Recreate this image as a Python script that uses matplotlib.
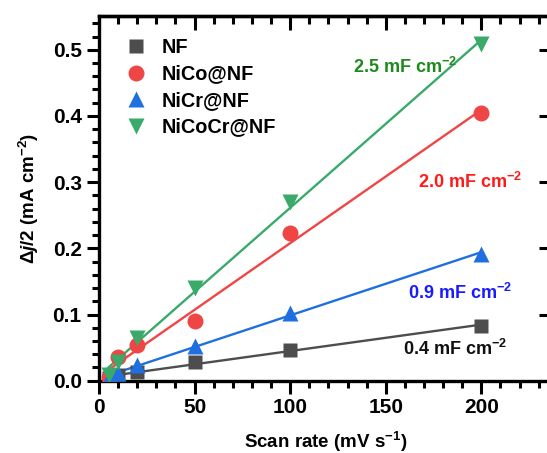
#Cdl plot: half current density difference vs scan rate
import matplotlib
matplotlib.use("Agg")
import matplotlib.pyplot as plt
from matplotlib.ticker import MultipleLocator
import numpy as np

plt.rcParams['font.family'] = ['Liberation Sans', 'DejaVu Sans']
plt.rcParams['font.weight'] = 'bold'
plt.rcParams['mathtext.fontset'] = 'custom'
plt.rcParams['mathtext.rm'] = 'Liberation Sans:bold'
plt.rcParams['mathtext.it'] = 'Liberation Sans:bold:italic'
plt.rcParams['mathtext.bf'] = 'Liberation Sans:bold'

scan_rate = [5, 10, 20, 50, 100, 200]
nf = [0.004, 0.008, 0.013, 0.028, 0.047, 0.083]
nico = [0.006, 0.036, 0.054, 0.090, 0.223, 0.405]
nicr = [0.004, 0.012, 0.024, 0.053, 0.102, 0.192]
nicocr = [0.009, 0.029, 0.065, 0.140, 0.270, 0.509]

names = ["NF", "NiCo@NF", "NiCr@NF", "NiCoCr@NF"]
cdl_text = ["0.4 mF cm$^{-2}$", "2.0 mF cm$^{-2}$", "0.9 mF cm$^{-2}$", "2.5 mF cm$^{-2}$"]

series = [nf, nico, nicr, nicocr]
colors = ["#4d4d4d", "#f04545", "#1f6fe0", "#3aaa6a"]
text_colors = ["#111111", "#ff1a1a", "#1a1aff", "#1e8a1e"]
markers = ["s", "o", "^", "v"]
msizes = [10.5, 11.5, 12, 12]
text_pos = [(186, 0.048), (194, 0.30), (189, 0.133), (160, 0.474)]

fig = plt.figure(figsize=(5.47, 4.53), dpi=100)
ax = fig.add_axes([0.181, 0.1596, 0.830, 0.805])

x = np.asarray(scan_rate, dtype=float)
handles = []
for ys, c in zip(series, colors):
    p = np.polyfit(x, ys, 1)
    ax.plot(x, np.polyval(p, x), color=c, lw=1.7, zorder=2)
for ys, c, m, ms, nm in zip(series, colors, markers, msizes, names):
    h, = ax.plot(x, ys, ls='none', marker=m, ms=ms, color=c, mec='none', zorder=3, label=nm)
    handles.append(h)

for t, pos, tc in zip(cdl_text, text_pos, text_colors):
    ax.text(pos[0], pos[1], t, color=tc, fontsize=13, fontweight='bold', ha='center', va='center')

ax.legend(handles=handles, loc='upper left', frameon=False, fontsize=14.3,
          bbox_to_anchor=(0.038, 0.940), handletextpad=0.3, labelspacing=0.38,
          borderaxespad=0.0, borderpad=0.0)

ax.set_xlim(0, 237.5)
ax.set_ylim(0, 0.551)
ax.xaxis.set_major_locator(MultipleLocator(50))
ax.xaxis.set_minor_locator(MultipleLocator(10))
ax.yaxis.set_major_locator(MultipleLocator(0.1))
ax.yaxis.set_minor_locator(MultipleLocator(0.02))
ax.set_xticks([0, 50, 100, 150, 200])
ax.set_yticks([0.0, 0.1, 0.2, 0.3, 0.4, 0.5])

for s in ax.spines.values():
    s.set_linewidth(2.4)
ax.tick_params(which='both', width=2.2, labelsize=15, direction='out')
ax.tick_params(which='major', length=9)
ax.tick_params(which='minor', length=5)

# top ticks point inward, right side only major ticks inward
top = ax.secondary_xaxis('top')
top.xaxis.set_major_locator(MultipleLocator(50))
top.xaxis.set_minor_locator(MultipleLocator(10))
top.tick_params(which='both', direction='in', width=2.2, labeltop=False)
top.tick_params(which='major', length=10)
top.tick_params(which='minor', length=6)
top.spines['top'].set_linewidth(2.4)
right = ax.secondary_yaxis('right')
right.yaxis.set_major_locator(MultipleLocator(0.1))
right.tick_params(which='major', direction='in', width=2.2, length=10, labelright=False)

ax.set_xlabel("Scan rate (mV s$^{-1}$)", fontsize=13.5, fontweight='bold', labelpad=9)
ax.set_ylabel("$\\Delta$$\\it{j}$/2 (mA cm$^{-2}$)", fontsize=13.5, fontweight='bold', labelpad=8)

fig.savefig("out.png", dpi=100)
